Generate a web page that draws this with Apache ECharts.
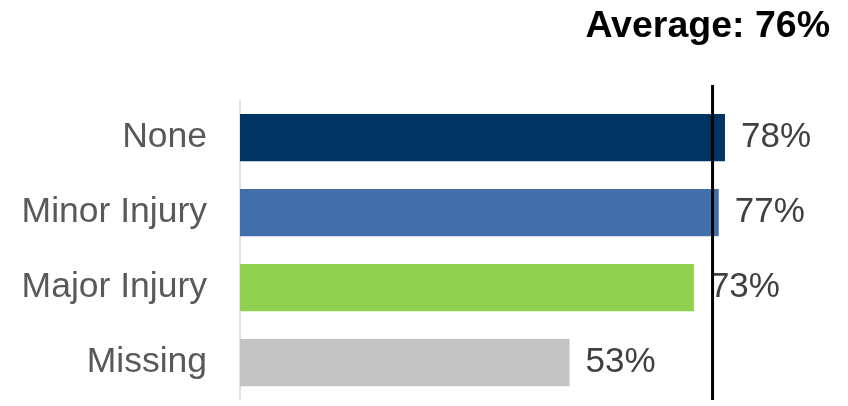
<!DOCTYPE html>
<html>
<head>
<meta charset="utf-8">
<script src="https://cdn.jsdelivr.net/npm/echarts@6/dist/echarts.min.js"></script>
<style>
  html, body { margin: 0; padding: 0; background: #fff; }
  #chart { width: 848px; height: 406px; }
</style>
</head>
<body>
<div id="chart"></div>
<script>
// Share of cases by injury status, with the overall average
const categories = ['None', 'Minor Injury', 'Major Injury', 'Missing'];
const values = [78, 77, 73, 53];
const barColors = ['#003462', '#426EAA', '#92D050', '#C3C3C3'];
const averageValue = 76;
const titleText = 'Average: ' + averageValue + '%';

const chart = echarts.init(document.getElementById('chart'));

chart.setOption({
  animation: false,
  title: {
    text: titleText,
    right: 13,
    top: 3,
    textStyle: {
      fontFamily: 'Liberation Sans',
      fontSize: 37.5,
      fontWeight: 'bold',
      color: '#000'
    }
  },
  grid: { left: 240, right: 48.4, top: 100, bottom: 6 },
  xAxis: {
    type: 'value',
    min: 0,
    max: 90,
    show: false
  },
  yAxis: [
    {
      type: 'category',
      data: categories,
      inverse: true,
      axisLine: { show: true, lineStyle: { color: '#D9D9D9', width: 1.5 } },
      axisTick: { show: false },
      axisLabel: {
        margin: 33,
        fontFamily: 'Liberation Sans',
        fontSize: 35.5,
        color: '#595959'
      }
    },
    {
      type: 'value',
      min: 0,
      max: 1,
      show: false
    }
  ],
  series: [
    {
      type: 'bar',
      yAxisIndex: 0,
      barCategoryGap: '37%',
      data: values.map((v, i) => ({ value: v, itemStyle: { color: barColors[i] } })),
      label: {
        show: true,
        position: 'right',
        distance: 16,
        formatter: '{c}%',
        fontFamily: 'Liberation Sans',
        fontSize: 35,
        color: '#404040'
      }
    },
    {
      // vertical reference line at the average
      type: 'line',
      yAxisIndex: 1,
      clip: false,
      symbol: 'none',
      data: [[averageValue, 0], [averageValue, 1.05]],
      lineStyle: { color: '#000', width: 3 },
      z: 5
    }
  ]
});
</script>
</body>
</html>
